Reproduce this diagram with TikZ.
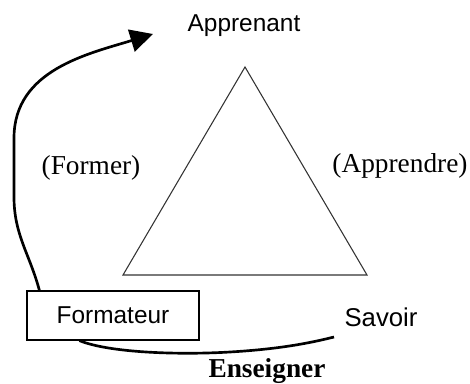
\documentclass[tikz,border=0pt]{standalone}
\usepackage{fontspec}
\setmainfont{Liberation Serif}
\setsansfont{Liberation Sans}
\usetikzlibrary{arrows.meta}
\begin{document}
\begin{tikzpicture}[x=0.75pt,y=0.75pt,
  sanslbl/.style={font=\sffamily\fontsize{18.3}{20}\selectfont, inner sep=0pt},
  seriflbl/.style={font=\rmfamily\fontsize{20.5}{22}\selectfont, inner sep=0pt},
  thickcurve/.style={line width=2pt}]
\useasboundingbox (0,0) rectangle (470,383);
% triangle
\coordinate (apex) at (245,316);
\coordinate (bl) at (123,108);
\coordinate (br) at (367,108);
\draw[line width=0.8pt, draw=black!80] (apex) -- (bl) -- (br) -- cycle;
% labels
\node[sanslbl] (app) at (244,357) {Apprenant};
\node[sanslbl, font=\sffamily\fontsize{19.3}{21}\selectfont] (sav) at (381,66) {Savoir};
\node[draw, line width=0.9pt, minimum width=172*0.75pt, minimum height=49*0.75pt, sanslbl] (form) at (113,67.5) {Formateur};
\node[seriflbl] (former) at (91,215) {(Former)};
\node[seriflbl] (apprendre) at (400,217) {(Apprendre)};
\node[seriflbl, font=\rmfamily\bfseries\fontsize{20.5}{22}\selectfont] (ens) at (267,12) {Enseigner};
% arrows
\coordinate (tip) at (153,349);
\coordinate (bend) at (14,186);
\coordinate (bend2) at (14,245);
\coordinate (endsav) at (334,46);
\draw[thickcurve, -{Triangle[length=17pt,width=17pt]}] (form.north west) ++(13,0) coordinate (start)
  to[out=105,in=-90] (bend) -- (bend2) to[out=90,in=197] (tip);
\draw[thickcurve] (form.south west) ++(53,0) coordinate (bstart)
  .. controls (110,30) and (180,28) .. (230,31) .. controls (280,34) and (310,40) .. (endsav);
\end{tikzpicture}
\end{document}
